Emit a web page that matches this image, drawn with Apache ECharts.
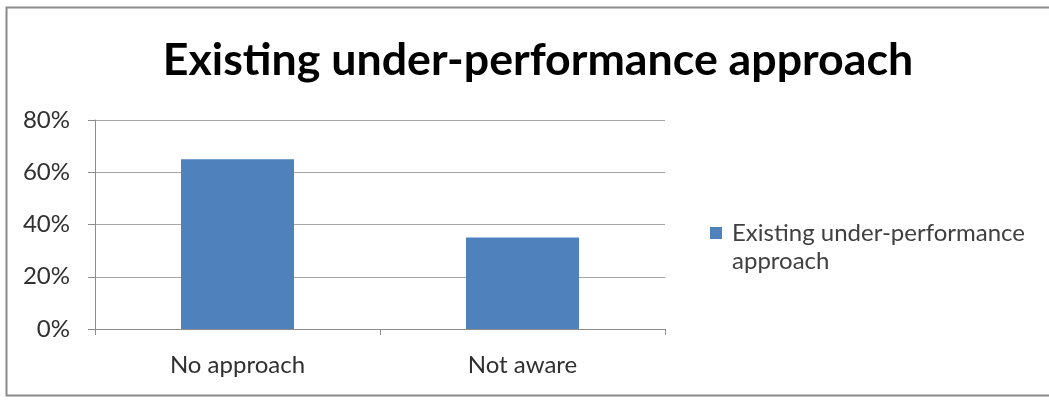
<!DOCTYPE html>
<html>
<head>
<meta charset="utf-8">
<script src="https://cdn.jsdelivr.net/npm/echarts@6/dist/echarts.min.js"></script>
<style>
  html, body { margin: 0; padding: 0; background: #fff; }
  #chart { width: 1049px; height: 401px; }
</style>
</head>
<body>
<div id="chart"></div>
<script>
// Chart data
const titleText = 'Existing under-performance approach';
const seriesName = 'Existing under-performance approach';
const legendLines = ['Existing under-performance', 'approach'];
const categories = ['No approach', 'Not aware'];
const values = [65, 35];
const yTicks = [0, 20, 40, 60, 80];

const FONT = 'Lato, "Open Sans", sans-serif';
const chart = echarts.init(document.getElementById('chart'), null, { renderer: 'canvas' });

chart.setOption({
  backgroundColor: '#ffffff',
  animation: false,
  title: {
    text: titleText,
    left: 533,
    textAlign: 'center',
    top: 33,
    textStyle: { fontFamily: FONT, fontWeight: 'bold', fontSize: 44.7, color: '#000000' }
  },
  legend: {
    orient: 'vertical',
    left: 710,
    top: 221,
    padding: 0,
    itemWidth: 12,
    itemHeight: 12,
    icon: 'rect',
    // the legend row carries the first line; the wrapped word sits underneath
    formatter: function () { return legendLines[0]; },
    textStyle: { fontFamily: FONT, fontSize: 24, color: '#404040', padding: [0, 0, 0, 5] }
  },
  grid: { left: 95, right: 384, top: 120, bottom: 72, containLabel: false },
  xAxis: {
    type: 'category',
    data: categories,
    axisLine: { show: true, lineStyle: { color: '#8c8c8c', width: 1 } },
    axisTick: { show: true, alignWithLabel: false, length: 6, lineStyle: { color: '#8c8c8c' } },
    axisLabel: { fontFamily: FONT, fontSize: 24, color: '#303030', margin: 24 },
    splitLine: { show: false }
  },
  yAxis: {
    type: 'value',
    min: yTicks[0],
    max: yTicks[yTicks.length - 1],
    interval: 20,
    axisLine: { show: true, lineStyle: { color: '#8c8c8c', width: 1 } },
    axisTick: { show: true, length: 7, lineStyle: { color: '#8c8c8c' } },
    axisLabel: { fontFamily: FONT, fontSize: 24, color: '#303030', margin: 25, formatter: '{value}%' },
    splitLine: { show: true, lineStyle: { color: '#a6a6a6', width: 1 } }
  },
  series: [{
    name: seriesName,
    type: 'bar',
    data: values,
    barWidth: 113,
    itemStyle: { color: '#4f81bd' }
  }],
  graphic: [
    {
      type: 'text',
      left: 732,
      top: 249,
      style: { text: legendLines[1], fontFamily: FONT, fontSize: 24, fill: '#404040' },
      silent: true
    },
    {
      type: 'rect',
      shape: { x: 6.5, y: 7.5, width: 1060, height: 388 },
      style: { fill: null, stroke: '#8a8a8a', lineWidth: 2 },
      silent: true,
      z: 100
    }
  ]
});
</script>
</body>
</html>
